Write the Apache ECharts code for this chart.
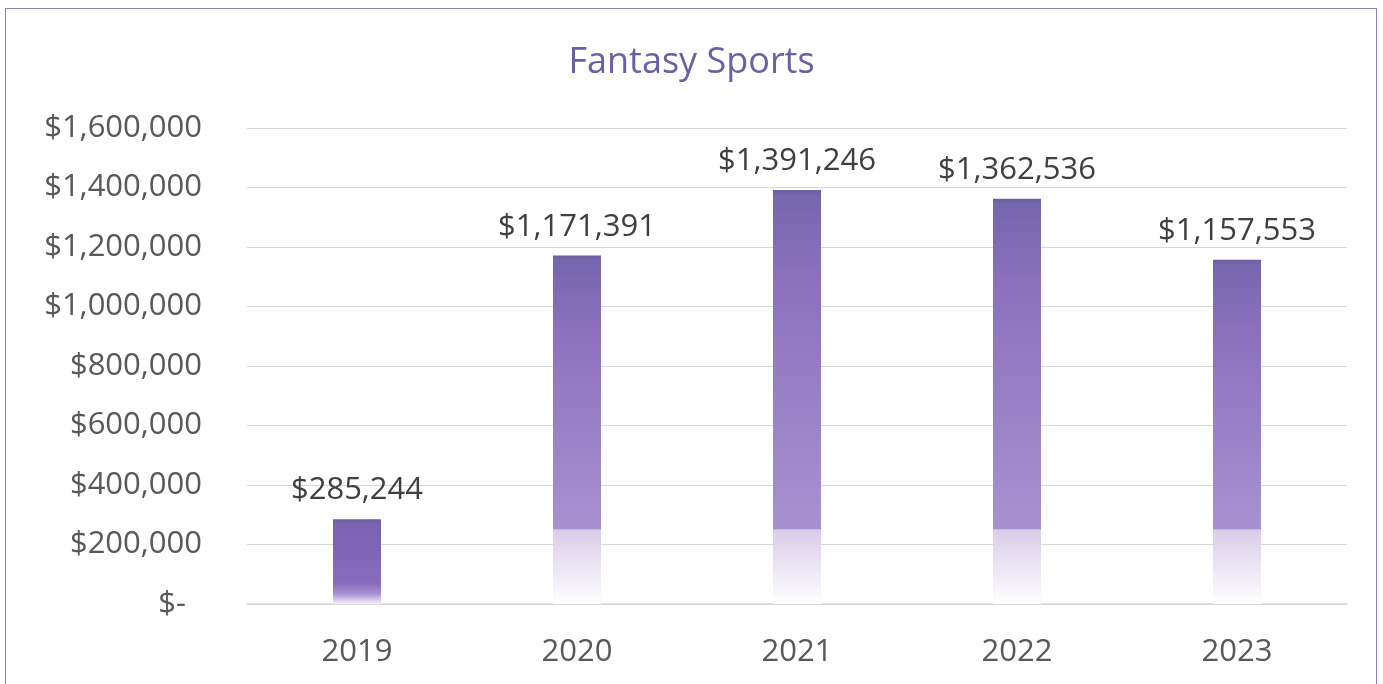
<!DOCTYPE html>
<html><head><meta charset="utf-8">
<script src="https://cdn.jsdelivr.net/npm/echarts@6/dist/echarts.min.js"></script>
<style>
html,body{margin:0;padding:0;background:#fff;overflow:hidden}
#frame{position:absolute;left:5px;top:8px;width:1372px;height:700px;border:1.5px solid #8b87b5;box-sizing:border-box}
#c{position:absolute;left:0;top:0;width:1383px;height:684px}
</style></head>
<body><div id="frame"></div><div id="c"></div>
<script>
const categories = ['2019','2020','2021','2022','2023'];
const revenue = [285244, 1171391, 1391246, 1362536, 1157553];
const yTicks = [0,200000,400000,600000,800000,1000000,1200000,1400000,1600000];

function money(v){ return v===0 ? '$-  ' : '$' + v.toLocaleString('en-US'); }

// soft fade near the baseline (starts ~250k, ends ~45k above zero)
function barColor(v){
  if (v < 500000) {
    return {type:'linear',x:0,y:0,x2:0,y2:1,colorStops:[
      {offset:0,color:'#6b5fa0'},{offset:0.05,color:'#7a62b0'},{offset:0.75,color:'#866cbb'},{offset:0.88,color:'#a892d2'},{offset:1,color:'#f6f2fb'}]};
  }
  const f0 = 1 - 250000 / v, f1 = 1 - 45000 / v;
  return {type:'linear',x:0,y:0,x2:0,y2:1,colorStops:[
    {offset:0,color:'#6a5f9c'},{offset:0.012,color:'#7566ae'},{offset:0.2,color:'#8a70bd'},{offset:f0*0.6,color:'#9880c6'},
    {offset:f0-0.001,color:'#a891d0'},{offset:f0,color:'#d8cde8'},{offset:f1,color:'#f8f5fb'},{offset:1,color:'#ffffff'}]};
}

const chart = echarts.init(document.getElementById('c'), null, {renderer:'canvas'});
chart.setOption({
  backgroundColor:'transparent',
  animation:false,
  title:{text:'Fantasy Sports',left:'center',top:40,textStyle:{fontFamily:'Open Sans',fontSize:36,fontWeight:'normal',color:'#6a60a5'}},
  grid:{left:247,right:36,top:128,bottom:80},
  xAxis:{type:'category',data:categories,
    axisLine:{lineStyle:{color:'#d9d9d9',width:1.5}},axisTick:{show:false},
    axisLabel:{fontFamily:'Open Sans',fontSize:31,color:'#595959',margin:33}},
  yAxis:{type:'value',min:0,max:1600000,interval:200000,
    axisLine:{show:false},axisTick:{show:false},
    splitLine:{lineStyle:{color:'#d9d9d9',width:1.2}},
    axisLabel:{fontFamily:'Open Sans',fontSize:31,color:'#595959',margin:45,
      formatter:function(v){return money(v);}}},
  series:[{type:'bar',barWidth:48,
    data:revenue.map(v=>({value:v,itemStyle:{color:barColor(v)}})),
    label:{show:true,position:'top',distance:13,fontFamily:'Open Sans',fontSize:31,color:'#404040',
      formatter:p=>money(p.value)}}]
});
</script></body></html>
